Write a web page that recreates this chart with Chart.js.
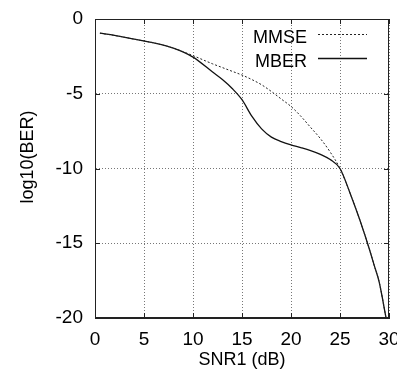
<!DOCTYPE html>
<html>
<head>
<meta charset="utf-8">
<script src="https://cdn.jsdelivr.net/npm/chart.js@4"></script>
<style>
  html, body { margin: 0; padding: 0; background: #fff; overflow: hidden; }
  canvas { display: block; }
</style>
</head>
<body>
<canvas id="chart" width="397" height="371"></canvas>
<script>
// data
const snr  = [0.5, 2, 4, 6, 8, 10, 12, 13, 14, 15, 16, 17, 18, 19, 20, 21, 22, 23, 24, 25, 26, 27, 28, 28.5, 29, 29.7];
const mmse = [-0.95, -1.1, -1.35, -1.6, -1.95, -2.45, -3.0, -3.25, -3.5, -3.75, -4.05, -4.4, -4.85, -5.35, -5.85, -6.5, -7.25, -8.0, -8.9, -10, -11.6, -13.4, -15.4, -16.5, -17.6, -20];
const mber = [-0.95, -1.1, -1.35, -1.6, -1.95, -2.55, -3.55, -4.05, -4.65, -5.4, -6.5, -7.35, -7.9, -8.2, -8.42, -8.6, -8.8, -9.05, -9.4, -10, -11.6, -13.4, -15.4, -16.5, -17.6, -20];
const xTicks = [0, 5, 10, 15, 20, 25, 30];
const yTicks = [0, -5, -10, -15, -20];
const seriesNames = ['MMSE', 'MBER'];
const xTitle = 'SNR1 (dB)';
const yTitle = 'log10(BER)';

const FONT = '"Liberation Sans", Arial, Helvetica, sans-serif';

function toPoints(ys) {
    return ys.map((y, i) => ({ x: snr[i], y: y }));
}

// frame, inner tick marks, axis titles and legend (gnuplot look)
const gnuplotDecor = {
    id: 'gnuplotDecor',
    afterDatasetsDraw(chart) {
        const ctx = chart.ctx;
        const a = chart.chartArea;
        const sx = chart.scales.x, sy = chart.scales.y;
        ctx.save();
        ctx.strokeStyle = '#222';
        ctx.lineWidth = 1;
        ctx.setLineDash([]);
        ctx.strokeRect(a.left + 0.5, a.top + 0.5, a.right - a.left - 1, a.bottom - a.top - 1);

        // small inward ticks on all four sides
        ctx.beginPath();
        xTicks.forEach(v => {
            const px = Math.round(sx.getPixelForValue(v)) + 0.5;
            ctx.moveTo(px, a.bottom); ctx.lineTo(px, a.bottom - 5);
            ctx.moveTo(px, a.top); ctx.lineTo(px, a.top + 5);
        });
        yTicks.forEach(v => {
            const py = Math.round(sy.getPixelForValue(v)) + 0.5;
            ctx.moveTo(a.left, py); ctx.lineTo(a.left + 5, py);
            ctx.moveTo(a.right, py); ctx.lineTo(a.right - 5, py);
        });
        ctx.stroke();

        // legend: text on the left, line sample on the right
        ctx.font = '18px ' + FONT;
        ctx.fillStyle = '#000';
        ctx.textAlign = 'right';
        ctx.textBaseline = 'alphabetic';
        const rows = [42.5, 66.5];
        chart.data.datasets.forEach((ds, i) => {
            ctx.fillText(ds.label, 307, rows[i]);
            ctx.beginPath();
            ctx.strokeStyle = ds.borderColor;
            ctx.lineWidth = ds.borderWidth;
            ctx.setLineDash(ds.borderDash || []);
            ctx.moveTo(318, rows[i] - 8);
            ctx.lineTo(367, rows[i] - 8);
            ctx.stroke();
        });
        ctx.setLineDash([]);

        // axis titles
        ctx.textAlign = 'center';
        ctx.fillText(xTitle, (a.left + a.right) / 2, 365);
        ctx.translate(33, 157);
        ctx.rotate(-Math.PI / 2);
        ctx.fillText(yTitle, 0, 0);
        ctx.restore();
    }
};

const ctx = document.getElementById('chart').getContext('2d');

new Chart(ctx, {
    type: 'line',
    data: {
        datasets: [
            {
                label: seriesNames[0],
                data: toPoints(mmse),
                borderColor: '#222',
                borderWidth: 1,
                borderDash: [2, 2],
                pointRadius: 0,
                cubicInterpolationMode: 'monotone',
                fill: false
            },
            {
                label: seriesNames[1],
                data: toPoints(mber),
                borderColor: '#111',
                borderWidth: 1.3,
                pointRadius: 0,
                cubicInterpolationMode: 'monotone',
                fill: false
            }
        ]
    },
    options: {
        responsive: false,
        animation: false,
        events: [],
        layout: { padding: { top: 19, right: 8, left: 0, bottom: 0 } },
        plugins: {
            legend: { display: false },
            tooltip: { enabled: false }
        },
        scales: {
            x: {
                type: 'linear',
                min: 0,
                max: 30,
                afterBuildTicks: scale => { scale.ticks = xTicks.map(v => ({ value: v })); },
                afterFit: scale => {
                    scale.height = 53;
                    scale.paddingLeft = 0;
                    scale.paddingRight = 0;
                },
                grid: { color: '#777', lineWidth: 1, drawTicks: false },
                border: { display: true, color: '#222', dash: [1, 2] },
                ticks: {
                    color: '#000',
                    padding: 10,
                    maxRotation: 0,
                    font: { family: FONT, size: 19 }
                }
            },
            y: {
                type: 'linear',
                min: -20,
                max: 0,
                afterBuildTicks: scale => { scale.ticks = yTicks.map(v => ({ value: v })); },
                afterFit: scale => {
                    scale.width = 95;
                    scale.paddingTop = 0;
                    scale.paddingBottom = 0;
                },
                grid: { color: '#777', lineWidth: 1, drawTicks: false },
                border: { display: true, color: '#222', dash: [1, 2] },
                ticks: {
                    color: '#000',
                    padding: 12,
                    font: { family: FONT, size: 19 }
                }
            }
        }
    },
    plugins: [gnuplotDecor]
});
</script>
</body>
</html>
